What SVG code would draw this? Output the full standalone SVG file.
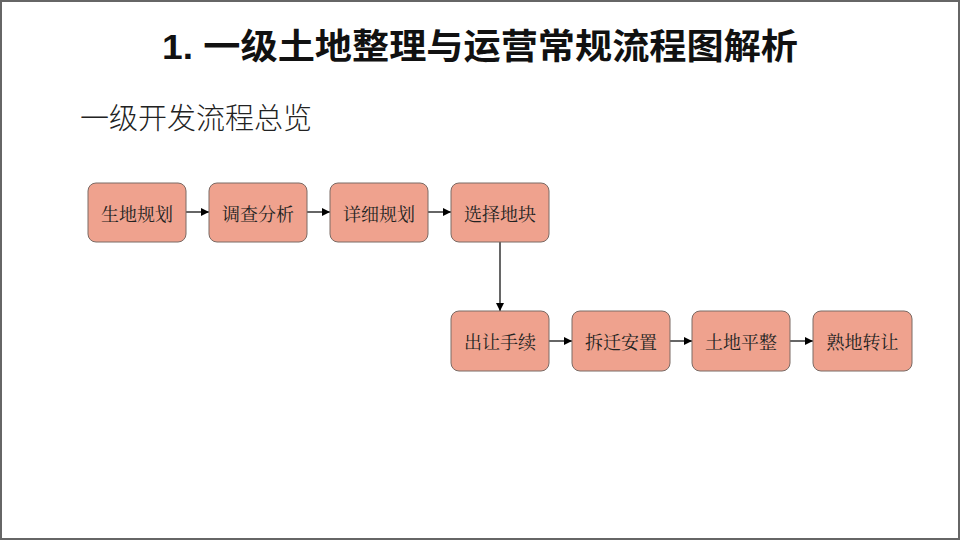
<svg xmlns="http://www.w3.org/2000/svg" width="960" height="540" viewBox="0 0 960 540">
  <defs>
    <marker id="arr" viewBox="0 0 10 10" refX="10" refY="5" markerWidth="8" markerHeight="8" markerUnits="userSpaceOnUse" orient="auto">
      <path d="M0,0 L10,5 L0,10 z" fill="#000"/>
    </marker>
    <style>
      .box { fill: #EFA28E; stroke: #7a6a64; stroke-width: 1; }
      .lbl { font-family: "Noto Serif CJK SC", "Noto Sans CJK SC", sans-serif; font-size: 18px; fill: #222; text-anchor: middle; dominant-baseline: central; }
      .con { stroke: #000; stroke-width: 1.2; fill: none; marker-end: url(#arr); }
    </style>
  </defs>
  <rect x="0" y="0" width="960" height="540" fill="#fff"/>
  <rect x="1" y="1" width="958" height="538" fill="none" stroke="#666" stroke-width="2"/>
  <text x="162" y="59" textLength="636" lengthAdjust="spacingAndGlyphs" font-family="'Liberation Sans', 'Noto Sans CJK SC', sans-serif" font-size="35" font-weight="bold" fill="#111">1. 一级土地整理与运营常规流程图解析</text>
  <text x="80" y="129" font-family="'Noto Sans CJK SC', sans-serif" font-size="29" font-weight="300" fill="#222">一级开发流程总览</text>

  <g id="connectors">
    <line class="con" x1="186" y1="212" x2="209" y2="212"/>
    <line class="con" x1="307" y1="212" x2="330" y2="212"/>
    <line class="con" x1="428" y1="212" x2="451" y2="212"/>
    <line class="con" x1="500" y1="242" x2="500" y2="311"/>
    <line class="con" x1="549" y1="341" x2="572" y2="341"/>
    <line class="con" x1="670" y1="341" x2="692" y2="341"/>
    <line class="con" x1="790" y1="341" x2="813" y2="341"/>
  </g>

  <g id="n1"><rect class="box" x="88" y="183" width="98" height="59" rx="8"/><text class="lbl" x="137" y="212.5">生地规划</text></g>
  <g id="n2"><rect class="box" x="209" y="183" width="98" height="59" rx="8"/><text class="lbl" x="258" y="212.5">调查分析</text></g>
  <g id="n3"><rect class="box" x="330" y="183" width="98" height="59" rx="8"/><text class="lbl" x="379" y="212.5">详细规划</text></g>
  <g id="n4"><rect class="box" x="451" y="183" width="98" height="59" rx="8"/><text class="lbl" x="500" y="212.5">选择地块</text></g>
  <g id="n5"><rect class="box" x="451" y="311" width="98" height="60" rx="8"/><text class="lbl" x="500" y="341">出让手续</text></g>
  <g id="n6"><rect class="box" x="572" y="311" width="98" height="60" rx="8"/><text class="lbl" x="621" y="341">拆迁安置</text></g>
  <g id="n7"><rect class="box" x="692" y="311" width="98" height="60" rx="8"/><text class="lbl" x="741" y="341">土地平整</text></g>
  <g id="n8"><rect class="box" x="813" y="311" width="99" height="60" rx="8"/><text class="lbl" x="862.5" y="341">熟地转让</text></g>
</svg>
